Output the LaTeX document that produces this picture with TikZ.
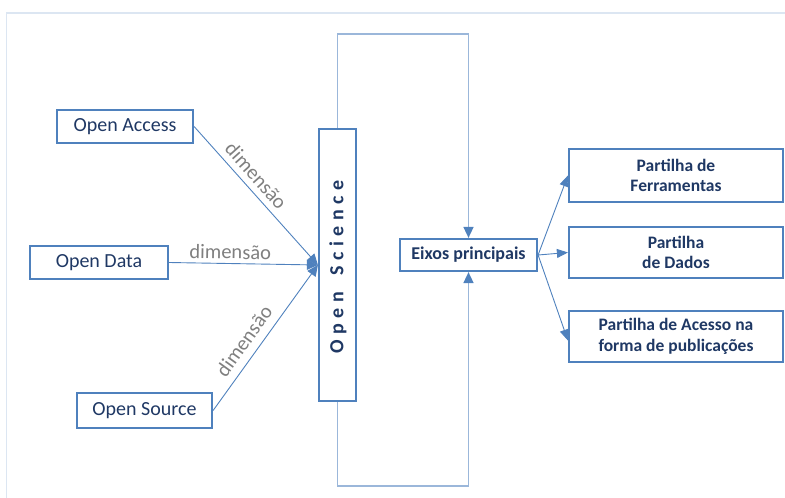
\documentclass[tikz,border=0pt]{standalone}
\usepackage{fontspec}
\setmainfont{Carlito}
\usetikzlibrary{arrows.meta}
\definecolor{boxblue}{HTML}{4F81BD}
\definecolor{loopblue}{HTML}{9BB7DA}
\definecolor{framebl}{HTML}{DCE6F2}
\definecolor{navy}{HTML}{1F3864}
\definecolor{labelgray}{HTML}{7F7F7F}
\tikzset{
  box/.style={draw=boxblue, line width=2.2pt, rectangle, inner sep=0pt, text=navy, align=center},
  leftbox/.style={box, font=\fontsize{20}{24}\selectfont},
  rightbox/.style={box, minimum width=214pt, font=\bfseries\fontsize{17.5}{20.5}\selectfont},
  dimline/.style={draw=boxblue, line width=0.9pt, -{Triangle[length=11pt,width=10pt]}},
  outline/.style={draw=boxblue, line width=0.9pt, -{Triangle[length=11pt,width=9pt]}},
  loopline/.style={draw=loopblue, line width=1.6pt, -{Triangle[length=11pt,width=10pt,color=boxblue,fill=boxblue]}},
  dimlabel/.style={text=labelgray, font=\fontsize{20.5}{24}\selectfont, inner sep=1pt}
}
\newcommand{\ls}{\hspace{5.5pt}}
\begin{document}
\begin{tikzpicture}[x=1pt,y=-1pt]
\useasboundingbox (0,0) rectangle (785,498);
% outer frame (open on the right and bottom)
\draw[framebl, line width=1.5pt] (6.5,498) -- (6.5,13) -- (785,13);

% source boxes
\node[leftbox, minimum width=136pt, minimum height=33pt] (oa) at (125,126.5) {Open Access};
\node[leftbox, minimum width=138pt, minimum height=33pt] (od) at (99,262.5) {Open Data};
\node[leftbox, minimum width=135pt, minimum height=35pt] (os) at (144.5,410.5) {Open Source};

% central vertical box
\node[box, minimum width=37pt, minimum height=272pt] (sci) at (337.5,265) {};
\node[text=navy, font=\bfseries\fontsize{20}{22}\selectfont, rotate=90, inner sep=0pt] (scitext) at (338,267)
  {O\ls p\ls e\ls n\ls\hspace{5pt}\ls S\ls c\ls i\ls e\ls n\ls c\ls e};

% main axes box
\node[box, minimum width=137pt, minimum height=32pt, font=\bfseries\fontsize{18}{22}\selectfont] (eix) at (468.5,255) {Eixos principais};

% target boxes
\node[rightbox, minimum height=53pt] (p1) at (676,175.5) {Partilha de\\Ferramentas};
\node[rightbox, minimum height=51pt] (p2) at (676,252.5) {Partilha\\de Dados};
\node[rightbox, minimum height=51pt] (p3) at (676,336.5) {Partilha de Acesso na\\forma de publicações};

% dimension connectors
\draw[dimline] (oa.east) -- node[dimlabel, sloped, above=5pt, pos=0.42] {dimensão} (sci.west);
\draw[dimline] (od.east) -- node[dimlabel, sloped, above=3pt, pos=0.41] {dimensão} (sci.west);
\draw[dimline] (os.east) -- node[dimlabel, sloped, above=7pt, pos=0.415] {dimensão} (sci.west);

% feedback loops around the central box
\coordinate (top) at (0,34);
\coordinate (bot) at (0,486);
\draw[loopline] (sci.north) -- (sci.north |- top) -- (eix.north |- top) -- (eix.north);
\draw[loopline] (sci.south) -- (sci.south |- bot) -- (eix.south |- bot) -- (eix.south);

% outgoing axes
\draw[outline] (eix.east) -- (p1.west);
\draw[outline] (eix.east) -- (p2.west);
\draw[outline] (eix.east) -- ([yshift=-4pt]p3.west);
\end{tikzpicture}
\end{document}
